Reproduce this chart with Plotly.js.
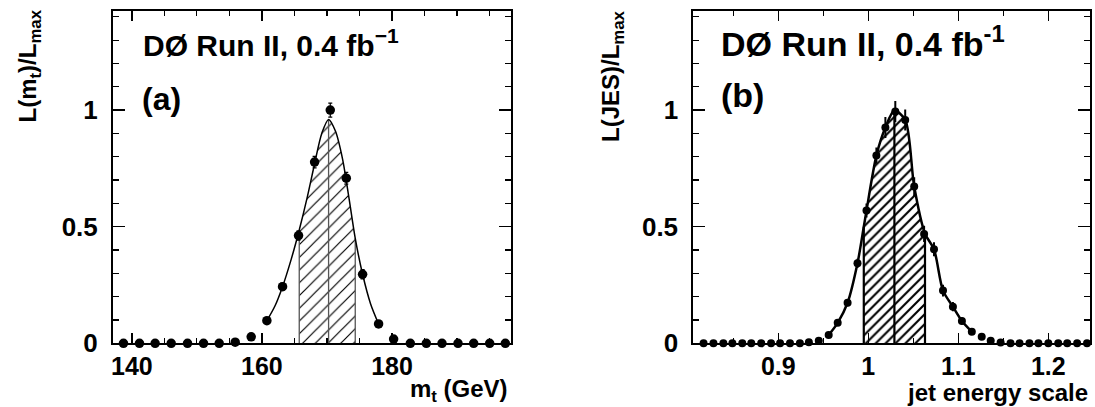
<!DOCTYPE html>
<html>
<head>
<meta charset="utf-8">
<script src="https://cdn.plot.ly/plotly-3.0.1.min.js"></script>
<style>html,body{margin:0;padding:0;background:#fff;}#chart{width:1095px;height:407px;}</style>
</head>
<body>
<div id="chart"></div>
<script>
// ---------- Panel (a): top-quark mass likelihood ----------
const mtPoints = [138.71, 141.17, 143.58, 146.05, 148.56, 151.02, 153.43, 155.89, 158.35, 160.76,
                  163.17, 165.63, 168.10, 170.51, 172.97, 175.48, 177.94, 180.25, 182.82, 185.28,
                  187.69, 190.15, 192.56, 195.02, 197.43];
const likeMt = [0, 0, 0, 0, 0, 0, 0, 0.005, 0.028, 0.097,
                0.243, 0.462, 0.777, 1.0, 0.708, 0.296, 0.083, 0.018, 0, 0,
                0, 0, 0, 0, 0];
const errMt = [0, 0, 0, 0, 0, 0, 0, 0.005, 0.008, 0.01,
               0.015, 0.02, 0.025, 0.03, 0.025, 0.02, 0.01, 0.005, 0, 0,
               0, 0, 0, 0, 0];
const mtCurveX = [160.76, 162.0, 163.17, 164.5, 165.74, 167.0, 168.1, 169.2, 170.25, 171.3,
                  172.4, 173.4, 174.35, 175.48, 176.7, 177.94];
const mtCurveY = [0.097, 0.16, 0.243, 0.36, 0.486, 0.63, 0.77, 0.9, 0.96, 0.91,
                  0.79, 0.62, 0.45, 0.296, 0.17, 0.083];
const mtBand = [165.74, 170.25, 174.35];   // lower edge, best value, upper edge
const mtTicks = [140, 160, 180];
const mtTickText = ['140', '160', '180'];

// ---------- Panel (b): jet energy scale likelihood ----------
const jesPoints = [0.817, 0.828, 0.839, 0.849, 0.860, 0.870, 0.881, 0.892, 0.902, 0.913,
                   0.924, 0.934, 0.945, 0.956, 0.966, 0.977, 0.988, 0.998, 1.009, 1.019,
                   1.030, 1.041, 1.051, 1.062, 1.073, 1.083, 1.094, 1.104, 1.115, 1.126,
                   1.136, 1.147, 1.158, 1.168, 1.179, 1.189, 1.200, 1.211, 1.221, 1.232, 1.243];
const likeJes = [0, 0, 0, 0, 0, 0, 0, 0, 0, 0,
                 0, 0.005, 0.011, 0.036, 0.088, 0.174, 0.343, 0.569, 0.805, 0.925,
                 0.994, 0.958, 0.672, 0.469, 0.403, 0.226, 0.157, 0.096, 0.05, 0.028,
                 0.011, 0.003, 0, 0, 0, 0, 0, 0, 0, 0, 0];
const errJes = [0, 0, 0, 0, 0, 0, 0, 0, 0, 0,
                0, 0, 0.005, 0.005, 0.01, 0.015, 0.02, 0.03, 0.035, 0.045,
                0.045, 0.045, 0.04, 0.035, 0.03, 0.025, 0.02, 0.015, 0.01, 0.005,
                0, 0, 0, 0, 0, 0, 0, 0, 0, 0, 0];
const jesCurveX = [0.956, 0.966, 0.977, 0.988, 0.995, 0.998, 1.009, 1.019, 1.029, 1.041,
                   1.051, 1.063, 1.073, 1.083, 1.094, 1.104, 1.115];
const jesCurveY = [0.036, 0.088, 0.174, 0.343, 0.50, 0.569, 0.805, 0.925, 0.998, 0.958,
                   0.672, 0.47, 0.403, 0.226, 0.157, 0.096, 0.05];
const jesBand = [0.995, 1.029, 1.063];
const jesTicks = [0.9, 1, 1.1, 1.2];
const jesTickText = ['0.9', '1', '1.1', '1.2'];

const likeTicks = [0, 0.5, 1];
const likeTickText = ['0', '0.5', '1'];

// ---------- helpers ----------
const W = 1095, H = 407;
const PX = v => v / W;
const PY = v => 1 - v / H;
const FONT = 'Liberation Sans, Arial, Helvetica, sans-serif';

function curveAt(cx, cy, x) {
  const i = cx.indexOf(x);
  return cy[i];
}
function bandFill(cx, cy, band) {
  const xs = [], ys = [];
  cx.forEach((x, i) => { if (x >= band[0] && x <= band[2]) { xs.push(x); ys.push(cy[i]); } });
  return {x: xs, y: ys};
}
function bandLines(cx, cy, band) {
  const xs = [], ys = [];
  band.forEach(b => { xs.push(b, b, null); ys.push(0, curveAt(cx, cy, b), null); });
  return {x: xs, y: ys};
}

function panelTraces(pts, lik, err, cx, cy, band, xa, ya, opt) {
  const f = bandFill(cx, cy, band);
  const v = bandLines(cx, cy, band);
  return [
    {x: f.x, y: f.y, xaxis: xa, yaxis: ya, type: 'scatter', mode: 'lines',
     line: {width: 0, shape: 'spline', smoothing: 0.8}, fill: 'tozeroy', fillcolor: 'rgba(255,255,255,0)',
     fillpattern: {shape: '/', size: opt.hatchSize, solidity: opt.hatchSolid, fgcolor: '#000', bgcolor: '#fff'},
     hoverinfo: 'skip'},
    {x: v.x, y: v.y, xaxis: xa, yaxis: ya, type: 'scatter', mode: 'lines',
     line: {color: opt.vColor, width: opt.vWidth}, hoverinfo: 'skip'},
    {x: cx, y: cy, xaxis: xa, yaxis: ya, type: 'scatter', mode: 'lines',
     line: {color: '#000', width: opt.curveWidth, shape: 'spline', smoothing: 0.8}, hoverinfo: 'skip'},
    {x: pts, y: lik, xaxis: xa, yaxis: ya, type: 'scatter', mode: 'markers', cliponaxis: false,
     marker: {color: '#000', size: opt.markerSize, symbol: 'circle'},
     error_y: {type: 'data', array: err, visible: true, color: '#000', thickness: opt.errThick, width: opt.errCap}}
  ];
}

const data = [].concat(
  panelTraces(mtPoints, likeMt, errMt, mtCurveX, mtCurveY, mtBand, 'x', 'y',
    {hatchSize: 9, hatchSolid: 0.13, vColor: '#555', vWidth: 1.3, curveWidth: 1.5, markerSize: 9.5, errThick: 1.2, errCap: 2}),
  panelTraces(jesPoints, likeJes, errJes, jesCurveX, jesCurveY, jesBand, 'x2', 'y2',
    {hatchSize: 7, hatchSolid: 0.3, vColor: '#000', vWidth: 2.2, curveWidth: 2.5, markerSize: 8, errThick: 2, errCap: 0})
);

const tickFont = {family: FONT, size: 26, color: '#000', weight: 'bold'};
const xTickFont = {family: FONT, size: 25, color: '#000', weight: 'bold'};
function xAxis(domain, range, tv, tt, minorD) {
  return {domain: domain, range: range, tickmode: 'array', tickvals: tv, ticktext: tt,
    ticks: 'inside', ticklen: 10, tickwidth: 1.5, tickcolor: '#000', mirror: 'allticks',
    showline: true, linewidth: 2, linecolor: '#000', showgrid: false, zeroline: false,
    tickfont: xTickFont, ticklabelstandoff: 0,
    minor: {dtick: minorD, tick0: tv[0], ticks: 'inside', ticklen: 5, tickwidth: 1.2, tickcolor: '#000', showgrid: false}};
}
function yAxis(domain, anchor) {
  return {domain: domain, range: [0, 1.425], anchor: anchor, tickmode: 'array', tickvals: likeTicks, ticktext: likeTickText,
    ticks: 'inside', ticklen: 12, tickwidth: 1.5, tickcolor: '#000', mirror: 'allticks',
    showline: true, linewidth: 2, linecolor: '#000', showgrid: false, zeroline: false,
    tickfont: tickFont, ticklabelstandoff: 8,
    minor: {dtick: 0.1, tick0: 0, ticks: 'inside', ticklen: 6, tickwidth: 1.2, tickcolor: '#000', showgrid: false}};
}

const yDom = [PY(343.3), PY(11)];
const ann = (text, x, y, size, xanchor, yanchor, angle) => ({
  text: text, xref: 'paper', yref: 'paper', x: PX(x), y: PY(y), xanchor: xanchor, yanchor: yanchor,
  showarrow: false, textangle: angle || 0, borderpad: 0,
  font: {family: FONT, size: size, color: '#000', weight: 'bold'}
});

const layout = {
  width: W, height: H, margin: {l: 0, r: 0, t: 0, b: 0},
  paper_bgcolor: '#fff', plot_bgcolor: '#fff', showlegend: false,
  xaxis: Object.assign(xAxis([PX(113), PX(511)], [137.1, 198.3], mtTicks, mtTickText, 5), {anchor: 'y'}),
  yaxis: yAxis(yDom, 'x'),
  xaxis2: Object.assign(xAxis([PX(693.3), PX(1090)], [0.8056, 1.2463], jesTicks, jesTickText, 0.05), {anchor: 'y2'}),
  yaxis2: yAxis(yDom, 'x2'),
  annotations: [
    ann('DØ Run II, 0.4 fb<sup>−1</sup>', 142, 43, 30, 'left', 'middle'),
    ann('(a)', 141, 99, 32, 'left', 'middle'),
    ann('DØ Run II, 0.4 fb<sup>-1</sup>', 720, 42, 34, 'left', 'middle'),
    ann('(b)', 720, 95, 34, 'left', 'middle'),
    ann('L(m<sub>t</sub>)/L<sub>max</sub>', 29, 9, 24, 'center', 'top', -90),
    ann('L(JES)/L<sub>max</sub>', 612, 9, 24, 'center', 'top', -90),
    ann('m<sub>t</sub> (GeV)', 509, 407, 24, 'right', 'bottom'),
    ann('jet energy scale', 1089, 407, 24, 'right', 'bottom')
  ]
};

Plotly.newPlot('chart', data, layout, {displayModeBar: false, staticPlot: true});
</script>
</body>
</html>
